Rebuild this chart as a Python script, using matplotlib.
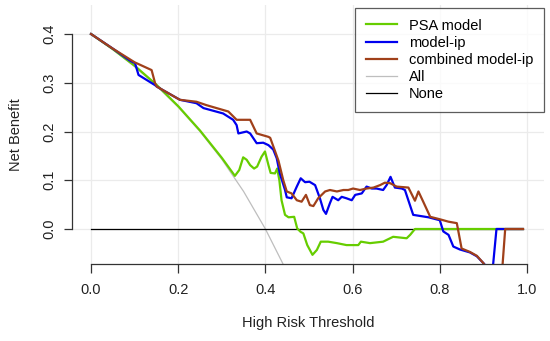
import numpy as np
import matplotlib
matplotlib.use("Agg")
import matplotlib.pyplot as plt

plt.rcParams["font.family"] = ["Liberation Sans", "DejaVu Sans"]

# Values
psa_x = [0, 0.05, 0.1, 0.15, 0.2, 0.25, 0.3, 0.33, 0.340, 0.349, 0.357, 0.365, 0.374, 0.381,
         0.391, 0.399, 0.407, 0.412, 0.422, 0.427, 0.432, 0.437, 0.445, 0.453, 0.466, 0.473,
         0.481, 0.487, 0.496, 0.508, 0.518, 0.527, 0.544, 0.564, 0.586, 0.613, 0.619, 0.64,
         0.67, 0.686, 0.693, 0.724, 0.732, 0.743, 0.99]
psa_y = [0.4, 0.369, 0.335, 0.296, 0.252, 0.202, 0.146, 0.109, 0.121, 0.147, 0.142, 0.131, 0.124, 0.128,
         0.148, 0.159, 0.131, 0.115, 0.114, 0.124, 0.100, 0.059, 0.029, 0.024, 0.025, 0.001,
         -0.006, -0.009, -0.033, -0.053, -0.043, -0.026, -0.026, -0.029, -0.033, -0.033, -0.026, -0.029,
         -0.026, -0.019, -0.016, -0.019, -0.012, 0.0, 0.0]

ip_x = [0, 0.05, 0.09, 0.101, 0.109, 0.147, 0.151, 0.204, 0.242, 0.258, 0.303, 0.326, 0.334, 0.338,
        0.357, 0.365, 0.380, 0.395, 0.407, 0.418, 0.426, 0.433, 0.445, 0.449, 0.460, 0.472, 0.481,
        0.491, 0.501, 0.514, 0.525, 0.533, 0.539, 0.548, 0.554, 0.567, 0.575, 0.586, 0.598, 0.606,
        0.621, 0.632, 0.644, 0.655, 0.670, 0.678, 0.687, 0.697, 0.713, 0.720, 0.739, 0.774, 0.800,
        0.808, 0.820, 0.831, 0.846, 0.869, 0.885, 0.900, 0.915, 0.921, 0.930, 0.99]
ip_y = [0.4, 0.37, 0.345, 0.340, 0.316, 0.295, 0.292, 0.265, 0.258, 0.248, 0.237, 0.224, 0.213, 0.196,
        0.200, 0.196, 0.176, 0.177, 0.172, 0.163, 0.145, 0.114, 0.080, 0.065, 0.063, 0.087, 0.104,
        0.096, 0.097, 0.090, 0.063, 0.039, 0.031, 0.053, 0.066, 0.059, 0.066, 0.063, 0.059, 0.070,
        0.073, 0.087, 0.083, 0.083, 0.080, 0.090, 0.107, 0.085, 0.083, 0.080, 0.029, 0.024, 0.018,
        -0.005, -0.012, -0.036, -0.042, -0.048, -0.056, -0.070, -0.085, -0.085, 0.0, 0.0]

comb_x = [0, 0.05, 0.1, 0.139, 0.147, 0.151, 0.204, 0.242, 0.265, 0.315, 0.334, 0.365, 0.380, 0.407,
          0.411, 0.422, 0.430, 0.441, 0.449, 0.460, 0.472, 0.483, 0.493, 0.502, 0.510, 0.521, 0.537,
          0.548, 0.564, 0.579, 0.590, 0.601, 0.617, 0.632, 0.648, 0.663, 0.674, 0.686, 0.701, 0.728,
          0.743, 0.751, 0.762, 0.778, 0.800, 0.820, 0.839, 0.842, 0.850, 0.869, 0.885, 0.900, 0.910,
          0.943, 0.950, 0.991]
comb_y = [0.4, 0.37, 0.342, 0.326, 0.299, 0.292, 0.265, 0.261, 0.254, 0.241, 0.224, 0.224, 0.196, 0.189,
          0.187, 0.160, 0.140, 0.100, 0.077, 0.073, 0.059, 0.056, 0.070, 0.049, 0.047, 0.063, 0.077,
          0.080, 0.077, 0.080, 0.080, 0.083, 0.080, 0.083, 0.085, 0.090, 0.095, 0.094, 0.087, 0.085,
          0.058, 0.077, 0.056, 0.025, 0.020, 0.015, 0.012, -0.002, -0.040, -0.047, -0.055, -0.070, -0.085,
          -0.085, 0.0, 0.0]

all_x = [0, 0.05, 0.1, 0.15, 0.2, 0.25, 0.3, 0.35, 0.4, 0.44]
all_y = [0.4, 0.368, 0.333, 0.294, 0.25, 0.2, 0.143, 0.077, 0.0, -0.071]

none_x = [0, 0.99]
none_y = [0, 0]

fig = plt.figure(figsize=(5.5, 3.41), dpi=100)
ax = fig.add_axes([72 / 550, 77 / 341, 472 / 550, 259 / 341])

ax.set_xlim(-0.0436, 1.039)
ax.set_ylim(-0.0718, 0.4595)

for gx in np.arange(0, 1.01, 0.2):
    ax.axvline(gx, color="#ebebeb", lw=0.9, zorder=0)
for gy in np.arange(0, 0.41, 0.1):
    ax.axhline(gy, color="#ebebeb", lw=0.9, zorder=0)

ax.plot(all_x, all_y, color="#bebebe", lw=0.9, label="All")
ax.plot(none_x, none_y, color="black", lw=0.9, label="None")
ax.plot(psa_x, psa_y, color="#66cd00", lw=1.6, label="PSA model")
ax.plot(ip_x, ip_y, color="#0000ee", lw=1.6, label="model-ip")
ax.plot(comb_x, comb_y, color="#a0401a", lw=1.6, label="combined model-ip")

for s in ["top", "right"]:
    ax.spines[s].set_visible(False)
ax.spines["left"].set_bounds(0, 0.4)
ax.spines["bottom"].set_bounds(0, 1)
for s in ["left", "bottom"]:
    ax.spines[s].set_color("#333333")
    ax.spines[s].set_linewidth(0.9)

ax.set_xticks([0, 0.2, 0.4, 0.6, 0.8, 1.0])
ax.set_xticklabels(["0.0", "0.2", "0.4", "0.6", "0.8", "1.0"])
ax.set_yticks([0, 0.1, 0.2, 0.3, 0.4])
ax.set_yticklabels(["0.0", "0.1", "0.2", "0.3", "0.4"], rotation=90, va="center")
ax.tick_params(axis="x", length=6.5, width=0.9, color="#333333", pad=7, labelsize=10.5, labelcolor="#222222")
ax.tick_params(axis="y", length=5.5, width=0.9, color="#333333", pad=6, labelsize=10.5, labelcolor="#222222")

ax.set_xlabel("High Risk Threshold", fontsize=10.5, labelpad=14, color="#222222")
ax.set_ylabel("Net Benefit", fontsize=10.5, labelpad=14, color="#222222")

handles, labels = ax.get_legend_handles_labels()
order = [2, 3, 4, 0, 1]
leg = ax.legend([handles[i] for i in order], [labels[i] for i in order],
                loc="upper right", bbox_to_anchor=(1.0, 0.99), fontsize=10.5, frameon=True,
                fancybox=False, borderaxespad=0, handlelength=2.1, handletextpad=0.8,
                labelspacing=0.22, borderpad=0.75)
leg.get_frame().set_edgecolor("#333333")
leg.get_frame().set_linewidth(0.9)

fig.savefig("out.png", dpi=100)
